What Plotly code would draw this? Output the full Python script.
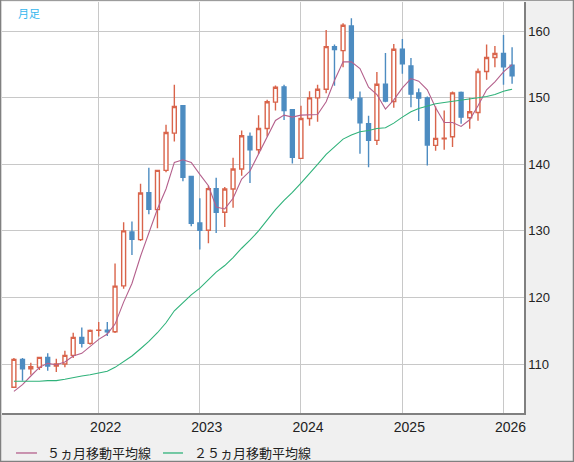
import pandas as pd
import plotly.graph_objects as go

# 月足 (2021/03 - 2026/02)
months = pd.date_range("2021-03-01", periods=60, freq="MS")

open_ = [106.5, 110.7, 109.3, 109.5, 111.0, 109.7, 110.0, 111.3, 114.0, 113.1,
         115.05, 115.1, 114.85, 121.75, 129.85, 128.7, 135.75, 133.2, 139.1, 144.7,
         148.8, 138.2, 131.2, 130.1, 136.35, 132.8, 136.3, 139.3, 144.2, 142.2,
         145.4, 149.35, 151.65, 148.2, 140.9, 146.9, 150.0, 151.3, 157.7, 157.1,
         160.8, 149.95, 146.1, 143.6, 152.05, 149.45, 157.3, 154.8, 150.75, 150.0,
         142.85, 143.85, 144.15, 150.8, 147.0, 147.8, 153.95, 156.05, 156.65, 154.9]
high = [110.9, 110.9, 110.2, 111.1, 111.6, 110.8, 112.0, 114.7, 115.5, 115.2,
        116.3, 116.3, 125.1, 131.3, 131.4, 137.1, 139.5, 139.2, 145.95, 151.95,
        148.9, 138.3, 134.9, 136.8, 138.0, 136.6, 141.0, 145.1, 144.8, 147.4,
        149.7, 151.85, 151.95, 148.3, 148.8, 151.0, 151.95, 160.2, 158.0, 161.2,
        161.95, 150.95, 147.3, 153.9, 156.75, 158.1, 158.85, 156.0, 151.4, 150.2,
        148.7, 148.1, 150.95, 150.95, 150.0, 154.4, 158.0, 157.8, 159.45, 157.6]
low = [106.4, 107.5, 108.4, 109.1, 109.0, 108.8, 109.5, 110.9, 112.5, 112.9,
       114.15, 114.2, 114.65, 121.3, 126.4, 128.5, 132.5, 130.4, 138.8, 143.45,
       137.45, 130.7, 127.2, 128.15, 129.7, 130.6, 133.5, 138.3, 137.2, 141.55,
       144.2, 148.1, 146.65, 140.15, 140.8, 145.8, 146.4, 150.7, 151.8, 154.6,
       149.6, 141.6, 139.55, 142.9, 149.35, 148.5, 153.6, 148.6, 146.5, 139.85,
       142.05, 142.2, 142.6, 146.1, 145.35, 146.55, 152.7, 154.6, 151.95, 152.1]
close = [110.7, 109.3, 109.6, 111.0, 109.7, 110.0, 111.3, 114.0, 113.1, 115.05,
         115.1, 114.85, 121.7, 130.0, 128.75, 135.7, 133.25, 139.1, 144.8, 148.7,
         138.05, 131.15, 130.1, 136.35, 132.8, 136.3, 139.3, 144.3, 142.2, 145.4,
         149.4, 151.6, 148.1, 141.05, 146.9, 150.0, 151.3, 157.7, 157.25, 160.9,
         149.95, 146.25, 143.6, 152.05, 149.5, 157.3, 155.1, 150.55, 149.95, 142.9,
         143.9, 143.92, 150.75, 147.1, 147.9, 153.95, 156.05, 156.65, 154.65, 153.3]

ma5 = [105.9, 106.9, 108.2, 109.5, 110.1, 109.9, 110.3, 111.2, 111.6, 112.7,
       113.7, 114.5, 116.0, 119.3, 122.1, 126.2, 129.8, 133.3, 136.3, 140.3,
       140.7, 140.3, 138.5, 136.8, 133.6, 133.3, 134.9, 137.8, 139.0, 141.5,
       144.1, 146.6, 147.4, 147.1, 147.4, 147.5, 147.5, 149.4, 152.6, 155.4,
       155.4, 154.4, 151.6, 150.5, 148.3, 149.7, 151.5, 152.9, 152.5, 151.2,
       148.5, 146.3, 146.3, 145.7, 146.7, 148.8, 151.2, 152.4, 153.9, 155.0]
ma25 = [107.4, 107.4, 107.3, 107.4, 107.5, 107.5, 107.7, 108.0, 108.2, 108.4,
        108.7, 108.9, 109.5, 110.4, 111.2, 112.3, 113.4, 114.7, 116.2, 118.0,
        119.3, 120.4, 121.4, 122.7, 123.8, 124.8, 126.0, 127.4, 128.6, 130.0,
        131.6, 133.2, 134.6, 135.8, 137.2, 138.6, 140.0, 141.5, 142.6, 143.8,
        144.4, 144.9, 145.1, 145.4, 145.5, 146.2, 147.1, 147.9, 148.4, 148.8,
        149.1, 149.3, 149.5, 149.7, 149.8, 150.0, 150.2, 150.5, 151.0, 151.3]

ma_names = ["５ヵ月移動平均線", "２５ヵ月移動平均線"]

RED = "#d9644b"
BLUE = "#4d8cc1"
MA5_COLOR = "#b4608c"
MA25_COLOR = "#2fb27a"

fig = go.Figure()
fig.add_trace(go.Candlestick(
    x=months, open=open_, high=high, low=low, close=close,
    increasing=dict(line=dict(color=RED, width=1.4), fillcolor="white"),
    decreasing=dict(line=dict(color=BLUE, width=1.4), fillcolor=BLUE),
    whiskerwidth=0, showlegend=False, hoverinfo="skip",
))
fig.add_trace(go.Scatter(x=months, y=ma5, mode="lines", name=ma_names[0],
                         line=dict(color=MA5_COLOR, width=1.1)))
fig.add_trace(go.Scatter(x=months, y=ma25, mode="lines", name=ma_names[1],
                         line=dict(color=MA25_COLOR, width=1.1)))

fig.add_annotation(text="月足", xref="paper", yref="paper", x=0.027, y=0.973,
                   xanchor="left", yanchor="middle", showarrow=False,
                   font=dict(family="Noto Sans CJK JP", size=11, color="#35b6ee"))

# 凡例 (手描き、プロット領域を動かさないため)
leg_y = -0.0973
for x0, x1, tx, name, col in [(0.0268, 0.0670, 0.0824, ma_names[0], MA5_COLOR),
                              (0.3084, 0.3467, 0.3640, ma_names[1], MA25_COLOR)]:
    fig.add_shape(type="line", xref="paper", yref="paper", x0=x0, x1=x1,
                  y0=leg_y, y1=leg_y, line=dict(color=col, width=1.3))
    fig.add_annotation(text=name, xref="paper", yref="paper", x=tx, y=leg_y,
                       xanchor="left", yanchor="middle", showarrow=False,
                       font=dict(family="Noto Sans CJK JP", size=13, color="#222222"))

# 外枠
fig.add_shape(type="rect", xref="paper", yref="paper",
              x0=-0.0029, x1=1.0948, y0=-0.118, y1=1.0049,
              line=dict(color="#808080", width=1.5))

fig.update_layout(
    width=574, height=462,
    margin=dict(l=2, r=50, t=2, b=49),
    paper_bgcolor="#f0f0f0", plot_bgcolor="white",
    boxgap=0.28,
    font=dict(family="Liberation Sans", color="#222222"),
    showlegend=False,
    xaxis=dict(
        type="date", range=["2021-01-17", "2026-03-16"],
        dtick="M12", tick0="2022-01-01", tickformat="%Y",
        showgrid=True, gridcolor="#c8c8c8", gridwidth=1.3,
        showline=True, linecolor="#808080", linewidth=1.5,
        ticks="", ticklabelshift=7, tickfont=dict(size=14),
        rangeslider=dict(visible=False), zeroline=False,
    ),
    yaxis=dict(
        side="right", range=[102.64, 164.4], dtick=10, tick0=110,
        showgrid=True, gridcolor="#c8c8c8", gridwidth=1.3,
        showline=True, linecolor="#808080", linewidth=1.5,
        ticks="", tickfont=dict(size=13), zeroline=False,
    ),
)

fig.write_html("out.html", config={"displayModeBar": False},
               post_script="document.body.style.margin='0';")
